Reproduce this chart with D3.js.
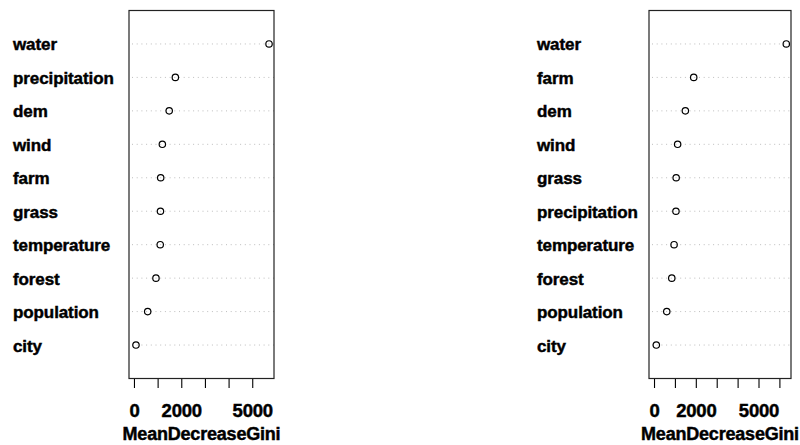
<!DOCTYPE html>
<html>
<head>
<meta charset="utf-8">
<script src="https://cdn.jsdelivr.net/npm/d3@7"></script>
<style>
  html, body { margin: 0; padding: 0; background: #fff; }
  text { font-family: "Liberation Sans", Arial, sans-serif; font-weight: bold; fill: #000; }
</style>
</head>
<body>
<svg id="chart" width="800" height="445"></svg>
<script>
// Variable importance (MeanDecreaseGini) of two random-forest models
const leftCategories = ["water", "precipitation", "dem", "wind", "farm", "grass", "temperature", "forest", "population", "city"];
const leftValues = [5710, 1750, 1490, 1200, 1130, 1120, 1110, 930, 580, 85];

const rightCategories = ["water", "farm", "dem", "wind", "grass", "precipitation", "temperature", "forest", "population", "city"];
const rightValues = [6330, 1900, 1500, 1130, 1060, 1050, 960, 850, 610, 110];

const leftTicks = [0, 1000, 2000, 3000, 4000, 5000];
const rightTicks = [0, 1000, 2000, 3000, 4000, 5000, 6000];
const shownTickLabels = [0, 2000, 5000];
const axisTitle = "MeanDecreaseGini";

const svg = d3.select("#chart");

function heavyText(sel) {
  // slightly thickened glyphs
  sel.attr("stroke", "#000").attr("stroke-width", 0.45).attr("paint-order", "stroke");
}

function dotPanel(cfg) {
  const { categories, values, ticks, domain, boxX0, boxX1, labelX } = cfg;
  const top = 10.5, bottom = 378.5;
  const n = categories.length;

  const x = d3.scaleLinear().domain(domain).range([boxX0, boxX1]);
  // rows sit on 1..n inside a 0..n+1 range, first category at the top
  const y = d3.scaleLinear().domain([0, n + 1]).range([bottom, top]);
  const rowY = (i) => y(n - i);

  const g = svg.append("g");

  // dotted guide lines
  g.selectAll("line.guide")
    .data(categories)
    .join("line")
    .attr("class", "guide")
    .attr("x1", boxX0 + 3)
    .attr("x2", boxX1)
    .attr("y1", (d, i) => rowY(i))
    .attr("y2", (d, i) => rowY(i))
    .attr("stroke", "#bdbdbd")
    .attr("stroke-width", 1)
    .attr("stroke-dasharray", "1,3.7");

  // category labels
  g.selectAll("text.cat")
    .data(categories)
    .join("text")
    .attr("class", "cat")
    .attr("x", labelX)
    .attr("y", (d, i) => rowY(i) + 6.5)
    .attr("font-size", 17)
    .attr("letter-spacing", -0.1)
    .text(d => d)
    .call(heavyText);

  // points
  g.selectAll("circle")
    .data(values)
    .join("circle")
    .attr("cx", d => x(d))
    .attr("cy", (d, i) => rowY(i))
    .attr("r", 3.2)
    .attr("fill", "none")
    .attr("stroke", "#000")
    .attr("stroke-width", 1.2);

  // plot box
  g.append("rect")
    .attr("x", boxX0)
    .attr("y", top)
    .attr("width", boxX1 - boxX0)
    .attr("height", bottom - top)
    .attr("fill", "none")
    .attr("stroke", "#222")
    .attr("stroke-width", 1.2);

  // x axis: ticks everywhere, labels only where they fit
  const axis = d3.axisBottom(x)
    .tickValues(ticks)
    .tickSizeInner(9)
    .tickSizeOuter(0)
    .tickPadding(16)
    .tickFormat(d => shownTickLabels.includes(d) ? String(d) : "");

  const ag = g.append("g")
    .attr("transform", `translate(0,${bottom + 0.5})`)
    .call(axis);
  ag.select(".domain").remove();
  ag.selectAll(".tick line").attr("stroke", "#000").attr("stroke-width", 1.1);
  ag.selectAll(".tick text")
    .attr("font-family", "Liberation Sans, Arial, sans-serif")
    .attr("font-weight", "bold")
    .attr("font-size", 18.5)
    .attr("letter-spacing", -0.2)
    .attr("fill", "#000")
    .call(heavyText);

  g.append("text")
    .attr("x", (boxX0 + boxX1) / 2)
    .attr("y", 440)
    .attr("text-anchor", "middle")
    .attr("font-size", 18)
    .attr("letter-spacing", -0.2)
    .text(axisTitle)
    .call(heavyText);
}

dotPanel({
  categories: leftCategories, values: leftValues, ticks: leftTicks,
  domain: [-210, 5920], boxX0: 129, boxX1: 274, labelX: 13
});
dotPanel({
  categories: rightCategories, values: rightValues, ticks: rightTicks,
  domain: [-240, 6555], boxX0: 649, boxX1: 791, labelX: 537
});
</script>
</body>
</html>
